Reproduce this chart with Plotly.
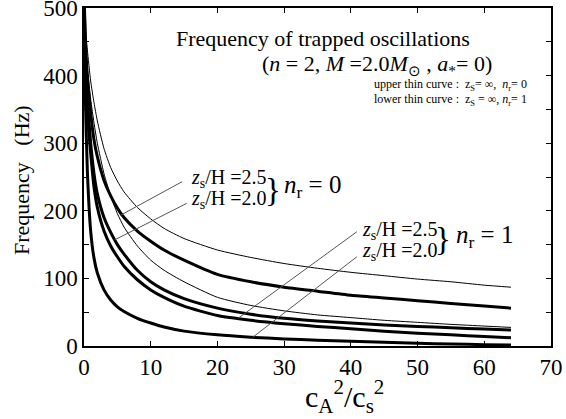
import plotly.graph_objects as go

# x values (cA^2/cs^2)
x_vals = [0.02, 0.2, 0.5, 1, 1.5, 2, 3, 4, 5, 6, 8, 10, 12, 15, 20, 25, 30, 35, 40, 45, 50, 55, 60, 64]

# upper thin curve: zs = inf, nr = 0
thin_upper = [520, 470, 438, 392, 360, 333, 292, 264, 244, 228, 205, 188, 174, 159, 142, 131, 122, 115, 109, 104, 99, 95, 90, 87]
# thick: nr = 0, zs/H = 2.5
nr0_zs25 = [520, 455, 400, 345, 305, 280, 245, 222, 204, 190, 170, 155, 142, 127, 106, 95, 87, 81, 75, 71, 67, 63, 59, 56]
# lower thin curve: zs = inf, nr = 1
thin_lower = [520, 460, 410, 365, 330, 300, 255, 222, 196, 176, 148, 127, 112, 95, 72, 60, 52, 46, 42, 38, 35, 32, 29.5, 27.5]
# thick: nr = 0, zs/H = 2.0
nr0_zs20 = [520, 430, 365, 300, 255, 225, 190, 168, 150, 136, 112, 95, 83, 70, 56, 47, 41, 37, 34, 31, 29, 27, 25, 23.7]
# thick: nr = 1, zs/H = 2.5
nr1_zs25 = [520, 420, 345, 285, 235, 205, 170, 148, 132, 118, 98, 83, 72, 59, 45, 38, 33, 29, 25.5, 22, 19, 16.5, 14, 12.3]
# thick: nr = 1, zs/H = 2.0
nr1_zs20 = [510, 370, 260, 170, 130, 108, 83, 68, 58, 51, 41, 34, 28, 22, 16.5, 13, 10.5, 8.5, 7, 5.5, 4, 3, 2, 1.5]

# pointer lines (data coords): [x0, y0, x1, y1]
pointers = [
    [14.7, 243, 5.4, 193],
    [15.4, 211, 4.6, 157],
    [40.9, 169, 23.1, 41],
    [40.9, 132, 25.3, 13],
]

x_ticks = [0, 10, 20, 30, 40, 50, 60, 70]
y_ticks = [0, 100, 200, 300, 400, 500]

FONT = "Liberation Serif, Times New Roman, serif"

fig = go.Figure()

curves = [
    (thin_upper, 1.0),
    (nr0_zs25, 3.0),
    (thin_lower, 1.0),
    (nr0_zs20, 3.0),
    (nr1_zs25, 3.0),
    (nr1_zs20, 3.0),
]
for ys, w in curves:
    fig.add_trace(go.Scatter(x=x_vals, y=ys, mode="lines",
                             line=dict(color="black", width=w, shape="spline", smoothing=0.6),
                             showlegend=False, hoverinfo="skip"))

for p in pointers:
    fig.add_shape(type="line", x0=p[0], y0=p[1], x1=p[2], y1=p[3], xref="x", yref="y",
                  line=dict(color="#555555", width=1))

W0, W1 = 84, 551
T0, B0 = 8, 346


def px(xp):
    return (xp - W0) / (W1 - W0)


def py(yp):
    return (B0 - yp) / (B0 - T0)


def ann(text, xp, yp, size, xanchor="center", angle=0):
    fig.add_annotation(text=text, x=px(xp), y=py(yp), xref="paper", yref="paper",
                       showarrow=False, xanchor=xanchor, yanchor="middle", textangle=angle,
                       font=dict(family=FONT, size=size, color="black"))


ann("Frequency of trapped oscillations", 323, 38, 22)
ann("(<i>n</i> = 2, <i>M</i> =2.0<i>M</i><sub>⊙</sub> , <i>a</i><sub>*</sub>= 0)", 377, 65, 22)
ann("upper thin curve :  z<sub>S</sub>= ∞,  <i>n</i><sub>r</sub>= 0", 372, 85, 12, "left")
ann("lower thin curve :  z<sub>S</sub> = ∞, <i>n</i><sub>r</sub>= 1", 372, 100, 12, "left")

ann("<i>z</i><sub>s</sub>/H =2.5", 229, 178, 20)
ann("<i>z</i><sub>s</sub>/H =2.0", 229, 199, 20)
ann("}", 273, 190, 33)
ann("<i>n</i><sub>r</sub> = 0", 312, 186, 25)

ann("<i>z</i><sub>s</sub>/H =2.5", 400, 230, 20)
ann("<i>z</i><sub>s</sub>/H =2.0", 400, 251, 20)
ann("}", 443, 239, 33)
ann("<i>n</i><sub>r</sub> = 1", 484, 236, 25)

ann("Frequency&nbsp;&nbsp;&nbsp;(Hz)", 22, 180, 22, angle=-90)

ann("c<sub>A</sub><sup>2</sup>/c<sub>s</sub><sup>2</sup>", 344, 396, 30)

axis_common = dict(showline=True, linecolor="black", linewidth=1.5, mirror="ticks",
                   ticks="inside", ticklen=5, tickcolor="black", showgrid=False, zeroline=False,
                   automargin=False, ticklabeloverflow="allow",
                   tickfont=dict(family=FONT, size=23, color="black"))

fig.update_xaxes(range=[0, 70], tickvals=x_ticks, ticktext=[str(v) for v in x_ticks], **axis_common)
fig.update_yaxes(range=[0, 500], tickvals=y_ticks, ticktext=[str(v) for v in y_ticks],
                 minor=dict(dtick=50, ticks="inside", ticklen=5, tickcolor="black"), **axis_common)

fig.update_layout(width=566, height=419, margin=dict(l=W0, r=566 - W1, t=T0, b=419 - B0),
                  paper_bgcolor="white", plot_bgcolor="white",
                  font=dict(family=FONT, color="black"))

fig.write_html("out.html", config={"displayModeBar": False},
               post_script="document.body.style.margin='0';")
